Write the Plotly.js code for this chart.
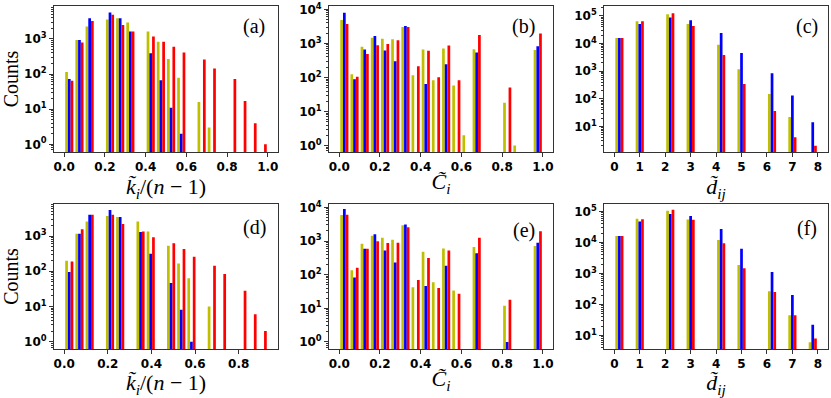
<!DOCTYPE html>
<html>
<head>
<meta charset="utf-8">
<script src="https://cdn.plot.ly/plotly-3.0.1.min.js"></script>
<style>html,body{margin:0;padding:0;background:#fff;}</style>
</head>
<body>
<div id="chart" style="width:831px;height:398px;"></div>
<script>
// 20 histogram bins per panel, null = empty bin
var nBins = 20;
var seriesColors = ['#bfbf00', '#0000ff', '#ff0000'];

// (a) normalised degree, top row
var degA_yellow = [115, 940, 2250, null, 3600, 3900, 2950, null, 1620, 840, 270, 79, null, 16, 3, null, null, null, null, null];
var degA_blue   = [72, 940, 3900, null, 5650, 3900, 1620, null, 390, 67, 11, 2, null, null, null, null, null, null, null, null];
var degA_red    = [65, 790, 3250, null, 4900, 2500, 1620, null, 1170, 840, 600, 415, null, 260, 145, null, 72, 17, 4, 1];

// (b) clustering, top row
var clusB_yellow = [4900, 125, 800, 1480, 1380, 1320, 3030, 117, 665, 83, 710, 58, 2, 680, null, null, 18, 1, null, 640];
var clusB_blue   = [7900, 88, 665, 1650, 620, 300, 3230, null, 64, null, 245, null, null, 545, null, null, null, null, null, 830];
var clusB_red    = [3700, 105, 490, 890, 960, 1230, 3030, 215, 610, 102, 875, 83, null, 1780, null, null, 51, null, null, 1960];

// (c) distances, top row
var distValues = [0, 1, 2, 3, 4, 5, 6, 7, 8];
var distC_yellow = [15800, 64000, 115000, 51000, 9100, 1180, 150, 22, null];
var distC_blue   = [15800, 51000, 87000, 69000, 24000, 4500, 830, 130, 14];
var distC_red    = [15800, 64000, 125000, 43000, 3800, 340, 36, 4, 2];

// (d) normalised degree, bottom row
var degD_yellow = [200, 1170, 2600, null, 3700, 3500, null, 2600, 1350, null, 530, 165, 63, null, 10, null, null, null, null, null];
var degD_blue   = [95, 1170, 4000, null, 5500, 3500, null, 1300, 315, null, 46, 8, 1, null, null, null, null, null, null, null];
var degD_red    = [190, 1550, 4000, null, 4000, 2200, null, 1350, 920, null, 620, 430, 260, null, 143, 83, null, 28, 6, 2];

// (e) clustering, bottom row
var clusE_yellow = [5900, 135, 830, 1440, 1260, 1100, 2950, 42, 480, 60, 600, 34, null, 660, null, null, 12, null, null, 710];
var clusE_blue   = [8900, 82, 590, 1580, 525, 230, 3100, null, 46, null, 185, null, null, 435, null, null, 1, null, null, 890];
var clusE_red    = [6000, 160, 590, 980, 870, 890, 2560, 70, 315, 40, 525, 27, null, 1260, null, null, 18, null, null, 1950];

// (f) distances, bottom row
var distF_yellow = [16000, 58000, 105000, 55000, 12000, 1870, 265, 45, 6];
var distF_blue   = [16000, 47000, 83000, 71000, 27000, 6200, 1120, 200, 22];
var distF_red    = [16000, 56000, 113000, 54000, 9400, 1470, 250, 45, 8];

var panelLabels = ['(a)', '(b)', '(c)', '(d)', '(e)', '(f)'];
var xTitles = [
  '<i>k\u0303<sub>i</sub></i>/(<i>n</i> \u2212 1)',
  '<i>C\u0303<sub>i</sub></i>',
  '<i>d\u0303<sub>ij</sub></i>',
  '<i>k\u0303<sub>i</sub></i>/(<i>n</i> \u2212 1)',
  '<i>C\u0303<sub>i</sub></i>',
  '<i>d\u0303<sub>ij</sub></i>'
];

function binTraces(counts, lo, hi, xa, ya) {
  var bw = (hi - lo) / nBins, w = 0.8 * bw / 3;
  return counts.map(function (c, i) {
    return {
      type: 'bar', x: c.map(function (_, k) { return lo + (k + 0.5) * bw; }), y: c,
      xaxis: xa, yaxis: ya, width: w, offset: -0.4 * bw + i * w,
      marker: {color: seriesColors[i], line: {width: 0}}, showlegend: false, hoverinfo: 'x+y'
    };
  });
}

function distTraces(counts, lo, hi, xa, ya) {
  var bw = (hi - lo) / nBins, w = 0.8 * bw / 3;
  var x = distValues.map(function (d) {
    var k = Math.min(Math.floor((d - lo) / bw + 1e-9), nBins - 1);
    return lo + (k + 0.5) * bw;
  });
  return counts.map(function (c, i) {
    return {
      type: 'bar', x: x, y: c, xaxis: xa, yaxis: ya, width: w, offset: -0.4 * bw + i * w,
      marker: {color: seriesColors[i], line: {width: 0}}, showlegend: false, hoverinfo: 'x+y'
    };
  });
}

var data = [].concat(
  binTraces([degA_yellow, degA_blue, degA_red], 0, 1, 'x', 'y'),
  binTraces([clusB_yellow, clusB_blue, clusB_red], 0, 1, 'x2', 'y2'),
  distTraces([distC_yellow, distC_blue, distC_red], 0, 8, 'x3', 'y3'),
  binTraces([degD_yellow, degD_blue, degD_red], 0, 14 / 15, 'x4', 'y4'),
  binTraces([clusE_yellow, clusE_blue, clusE_red], 0, 1, 'x5', 'y5'),
  distTraces([distF_yellow, distF_blue, distF_red], 0, 8, 'x6', 'y6')
);

var tickFont = {family: 'DejaVu Sans', size: 12, weight: 'bold', color: '#000'};
var serif = {family: 'Liberation Serif', size: 20, color: '#000'};
var titleSerif = {family: 'Liberation Serif', size: 22, color: '#000'};
var colDomains = [[0.065, 0.3345], [0.396, 0.6655], [0.727, 0.9964]];
var rowDomains = [[0.618, 0.985], [0.123, 0.4874]];
var xRanges = [[-0.05, 1.05], [-0.05, 1.05], [-0.4, 8.4], [-0.0467, 0.98], [-0.05, 1.05], [-0.4, 8.4]];
var yRanges = [[-0.22, 3.94], [-0.19, 4.1], [0.07, 5.36], [-0.21, 3.91], [-0.21, 4.1], [0.56, 5.24]];
var labelPos = [[0.893, 0.86], [0.87, 0.86], [0.906, 0.86], [0.893, 0.84], [0.87, 0.82], [0.906, 0.83]];

var layout = {
  width: 831, height: 398,
  margin: {l: 0, r: 0, t: 0, b: 0},
  paper_bgcolor: '#fff', plot_bgcolor: '#fff',
  barmode: 'overlay',
  annotations: []
};

for (var p = 0; p < 6; p++) {
  var n = p === 0 ? '' : String(p + 1);
  var isDist = (p % 3) === 2;
  var exps = [];
  for (var e = Math.ceil(yRanges[p][0]); e <= Math.floor(yRanges[p][1]); e++) exps.push(e);
  layout['xaxis' + n] = {
    domain: colDomains[p % 3], range: xRanges[p], anchor: 'y' + n,
    dtick: isDist ? 1 : 0.2, tick0: 0, tickformat: isDist ? 'd' : '.1f',
    showgrid: false, zeroline: false, showline: true, mirror: true, linecolor: '#333', linewidth: 1,
    ticks: 'outside', ticklen: 4, tickcolor: '#333', tickfont: tickFont,
    title: {text: xTitles[p], font: titleSerif, standoff: 0}
  };
  var yax = {
    domain: rowDomains[Math.floor(p / 3)], type: 'log', range: yRanges[p], anchor: 'x' + n,
    tickmode: 'array',
    tickvals: exps.map(function (v) { return Math.pow(10, v); }),
    ticktext: exps.map(function (v) { return '10<sup>' + v + '</sup>'; }),
    showgrid: false, zeroline: false, showline: true, mirror: true, linecolor: '#333', linewidth: 1,
    ticks: 'outside', ticklen: 4, tickcolor: '#333', tickfont: tickFont,
    minor: {ticks: 'outside', ticklen: 2, tickcolor: '#333', dtick: 'D1', showgrid: false}
  };
  if (p % 3 === 0) {
    yax.title = {text: 'Counts', font: {family: 'Liberation Serif', size: 20, color: '#000'}, standoff: 6};
  }
  layout['yaxis' + n] = yax;
  layout.annotations.push({
    text: panelLabels[p], xref: 'x' + n + ' domain', yref: 'y' + n + ' domain',
    x: labelPos[p][0], y: labelPos[p][1], xanchor: 'center', yanchor: 'middle',
    showarrow: false, font: serif
  });
}

Plotly.newPlot('chart', data, layout, {displayModeBar: false, staticPlot: true});
</script>
</body>
</html>
